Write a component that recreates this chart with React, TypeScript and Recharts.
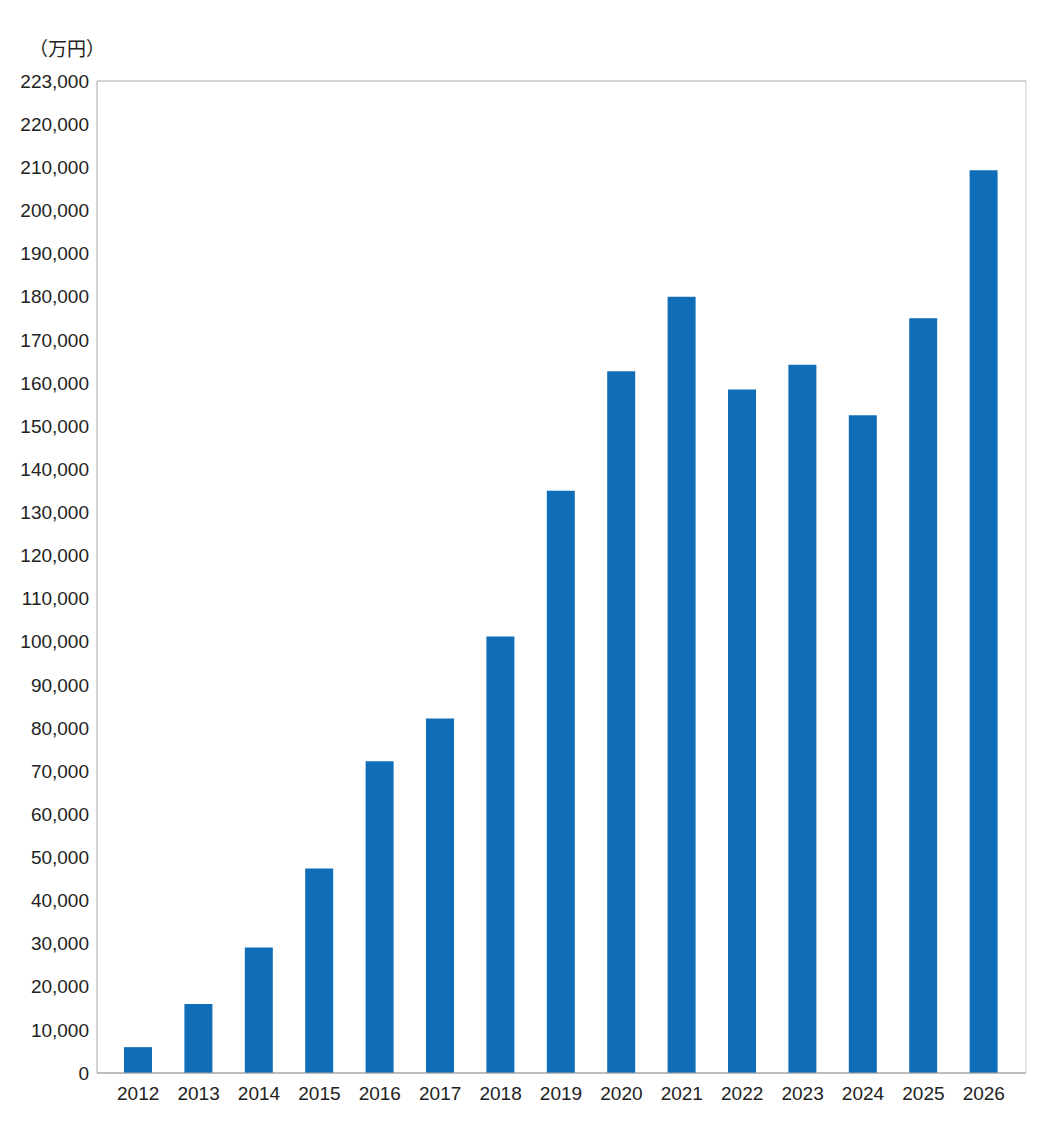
import React from "react";
import { BarChart, Bar, XAxis, YAxis, CartesianGrid } from "recharts";

const years = ["2012","2013","2014","2015","2016","2017","2018","2019","2020","2021","2022","2023","2024","2025","2026"];
const values = [6000,16000,29100,47400,72300,82200,101200,135000,162700,180000,158500,164200,152500,175000,209300];
const yTickValues = [0,10000,20000,30000,40000,50000,60000,70000,80000,90000,100000,110000,120000,130000,140000,150000,160000,170000,180000,190000,200000,210000,220000,230000];
const yTickLabels = ["0","10,000","20,000","30,000","40,000","50,000","60,000","70,000","80,000","90,000","100,000","110,000","120,000","130,000","140,000","150,000","160,000","170,000","180,000","190,000","200,000","210,000","220,000","223,000"];
const unitLabel = "（万円）";

const data = years.map((y, i) => ({ year: y, value: values[i] }));
const fmtY = (v: number) => {
  const i = yTickValues.indexOf(v);
  return i >= 0 ? yTickLabels[i] : String(v);
};

const FONT = "'Liberation Sans', Arial, sans-serif";

export default function App() {
  return (
    <div style={{ position: "relative", width: 1040, height: 1110, fontFamily: FONT }}>
      <span
        style={{
          position: "absolute",
          left: 21,
          top: 30,
          fontSize: 19,
          lineHeight: "19px",
          fontFamily: "'Noto Sans CJK JP', sans-serif",
          color: "#222",
          whiteSpace: "nowrap",
        }}
      >
        {unitLabel}
      </span>
      <BarChart
        width={1040}
        height={1110}
        data={data}
        margin={{ top: 73, right: 0, left: 0, bottom: 15 }}
      >
        <CartesianGrid vertical={false} stroke="#a6a6a6" strokeWidth={1} />
        <XAxis
          dataKey="year"
          height={30}
          tickLine={false}
          tickMargin={8}
          padding={{ left: 11, right: 12 }}
          axisLine={{ stroke: "#a6a6a6" }}
          tick={{ fill: "#222", fontSize: 19, fontFamily: FONT }}
          interval={0}
        />
        <YAxis
          yAxisId="l"
          width={89}
          domain={[0, 230000]}
          ticks={yTickValues}
          tickFormatter={fmtY}
          tickLine={false}
          axisLine={{ stroke: "#a6a6a6" }}
          tick={{ fill: "#222", fontSize: 19, fontFamily: FONT }}
          interval={0}
        />
        <YAxis
          yAxisId="r"
          orientation="right"
          width={22}
          domain={[0, 230000]}
          ticks={yTickValues}
          tickFormatter={() => ""}
          tickSize={4}
          tickLine={{ stroke: "#dddddd" }}
          axisLine={{ stroke: "#cccccc" }}
          interval={0}
        />
        <Bar yAxisId="l" dataKey="value" fill="#106eb8" barSize={28} isAnimationActive={false} />
      </BarChart>
    </div>
  );
}
